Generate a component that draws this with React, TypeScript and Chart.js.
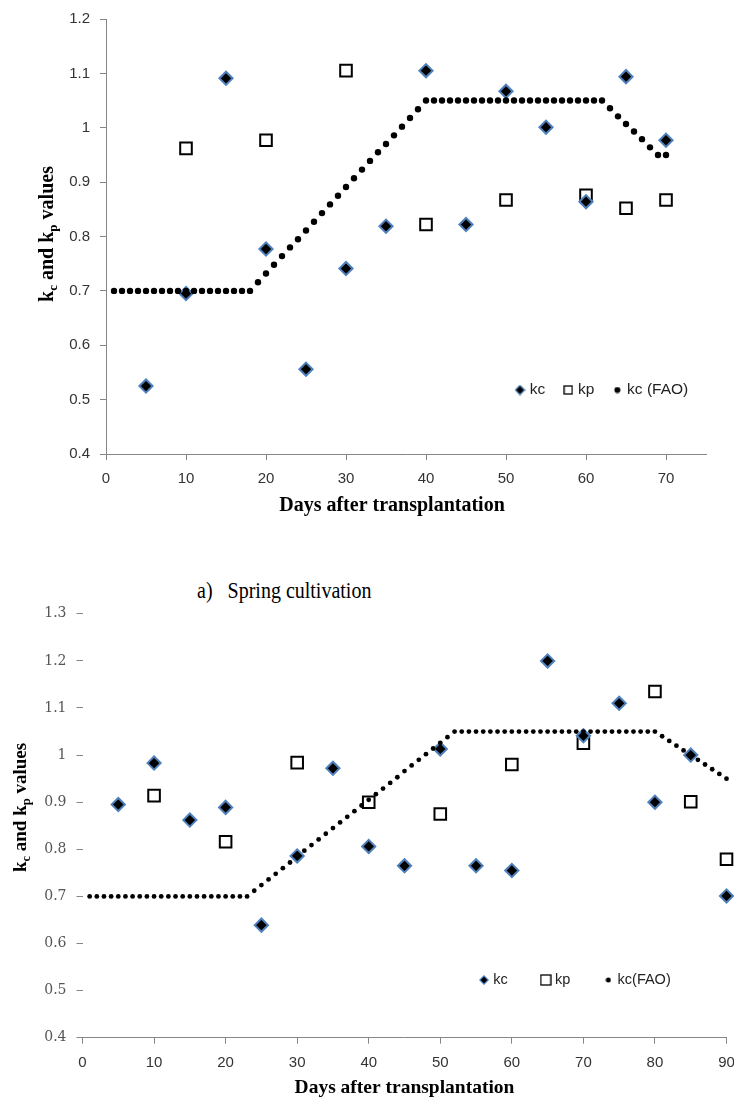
import React, { useEffect, useRef } from 'react';
import { Chart, registerables } from 'chart.js';

Chart.register(...registerables);

// ---------- a) Spring cultivation ----------
const springKcDays = [5, 10, 15, 20, 25, 30, 35, 40, 45, 50, 55, 60, 65, 70];
const springKc = [0.525, 0.695, 1.091, 0.777, 0.556, 0.741, 0.819, 1.105, 0.822, 1.067, 1.001, 0.864, 1.094, 0.977];
const springKpDays = [10, 20, 30, 40, 50, 60, 65, 70];
const springKp = [0.962, 0.977, 1.105, 0.822, 0.867, 0.876, 0.852, 0.867];
// kc (FAO), one value per day starting at day 1
const springFao = [
  0.7, 0.7, 0.7, 0.7, 0.7, 0.7, 0.7, 0.7, 0.7, 0.7,
  0.7, 0.7, 0.7, 0.7, 0.7, 0.7, 0.7, 0.7, 0.716, 0.732,
  0.748, 0.764, 0.78, 0.795, 0.811, 0.827, 0.843, 0.859, 0.875, 0.891,
  0.907, 0.923, 0.939, 0.955, 0.97, 0.986, 1.002, 1.018, 1.034, 1.05,
  1.05, 1.05, 1.05, 1.05, 1.05, 1.05, 1.05, 1.05, 1.05, 1.05,
  1.05, 1.05, 1.05, 1.05, 1.05, 1.05, 1.05, 1.05, 1.05, 1.05,
  1.05, 1.05, 1.036, 1.021, 1.007, 0.993, 0.979, 0.964, 0.95, 0.95,
];
const springLabels = ['kc', 'kp', 'kc (FAO)'];

// ---------- second season ----------
const secondKcDays = [5, 10, 15, 20, 25, 30, 35, 40, 45, 50, 55, 60, 65, 70, 75, 80, 85, 90];
const secondKc = [0.895, 0.983, 0.862, 0.889, 0.639, 0.786, 0.972, 0.806, 0.765, 1.013, 0.765, 0.755, 1.2, 1.041, 1.11, 0.9, 1.0, 0.701];
const secondKpDays = [10, 20, 30, 40, 50, 60, 70, 80, 85, 90];
const secondKp = [0.914, 0.816, 0.984, 0.9, 0.875, 0.98, 1.025, 1.135, 0.901, 0.779];
const secondFao = [
  0.7, 0.7, 0.7, 0.7, 0.7, 0.7, 0.7, 0.7, 0.7, 0.7,
  0.7, 0.7, 0.7, 0.7, 0.7, 0.7, 0.7, 0.7, 0.7, 0.7,
  0.7, 0.7, 0.7, 0.712, 0.724, 0.736, 0.748, 0.76, 0.772, 0.784,
  0.797, 0.809, 0.821, 0.833, 0.845, 0.857, 0.869, 0.881, 0.893, 0.905,
  0.917, 0.929, 0.941, 0.953, 0.966, 0.978, 0.99, 1.002, 1.014, 1.026,
  1.038, 1.05, 1.05, 1.05, 1.05, 1.05, 1.05, 1.05, 1.05, 1.05,
  1.05, 1.05, 1.05, 1.05, 1.05, 1.05, 1.05, 1.05, 1.05, 1.05,
  1.05, 1.05, 1.05, 1.05, 1.05, 1.05, 1.05, 1.05, 1.05, 1.05,
  1.04, 1.03, 1.02, 1.01, 1.0, 0.99, 0.98, 0.97, 0.96, 0.95,
];
const secondLabels = ['kc', 'kp', 'kc(FAO)'];

const xTitle = 'Days after transplantation';
const yTitleParts = [
  { text: 'k', sub: false },
  { text: 'c', sub: true },
  { text: ' and k', sub: false },
  { text: 'p', sub: true },
  { text: ' values', sub: false },
];
const captionText = 'a)   Spring cultivation';

const SERIF = '"Liberation Serif", "Times New Roman", serif';
const SANS = '"Liberation Sans", Arial, sans-serif';

function makeMarker(kind: string, size: number): HTMLCanvasElement {
  const c = document.createElement('canvas');
  c.width = size;
  c.height = size;
  const g = c.getContext('2d') as CanvasRenderingContext2D;
  const m = size / 2;
  if (kind === 'diamond') {
    g.beginPath();
    g.moveTo(m, 0.8);
    g.lineTo(size - 0.8, m);
    g.lineTo(m, size - 0.8);
    g.lineTo(0.8, m);
    g.closePath();
    g.fillStyle = '#000';
    g.fill();
    g.strokeStyle = '#4F81BD';
    g.lineWidth = 1.2;
    g.stroke();
  } else if (kind === 'square') {
    g.fillStyle = '#fff';
    g.fillRect(1, 1, size - 2, size - 2);
    g.strokeStyle = '#000';
    g.lineWidth = 1.3;
    g.strokeRect(1, 1, size - 2, size - 2);
  } else {
    g.beginPath();
    g.arc(m, m, m - 0.5, 0, Math.PI * 2);
    g.fillStyle = '#000';
    g.fill();
  }
  return c;
}

type PanelProps = {
  top: number;
  width: number;
  height: number;
  kcDays: number[];
  kc: number[];
  kpDays: number[];
  kp: number[];
  fao: number[];
  labels: string[];
  xMax: number;
  yMin: number;
  yMax: number;
  pad: { top: number; right: number };
  yAxisWidth: number;
  xAxisHeight: number;
  yBorder: boolean;
  yTickFont: { family: string; size: number };
  yTickColor: string;
  faoRadius: number;
  legend: { left: number; centerY: number; padding: number; fontSize: number; markers: number[] };
  xTitlePos: { x: number; y: number; size: number };
  yTitlePos: { x: number; y: number; size: number; subSize: number; subShift: number };
};

function Panel(p: PanelProps) {
  const ref = useRef<HTMLCanvasElement | null>(null);

  useEffect(() => {
    const canvas = ref.current;
    if (!canvas) return;

    const markerCanvases = [
      makeMarker('diamond', p.legend.markers[0]),
      makeMarker('square', p.legend.markers[1]),
      makeMarker('dot', p.legend.markers[2]),
    ];

    const legendMover = {
      id: 'legendMover',
      beforeLayout(chart: any) {
        const lg = chart.legend;
        if (lg && !lg.__patched) {
          const orig = lg.fit;
          lg.fit = function () {
            orig.call(this);
            this.height = 0;
          };
          lg.__patched = true;
        }
      },
      beforeDraw(chart: any) {
        const lg = chart.legend;
        if (!lg) return;
        const L = p.legend.left - p.legend.padding;
        const T = p.legend.centerY - p.legend.padding - p.legend.fontSize / 2;
        lg.left = L;
        lg.right = L + 600;
        lg.width = 600;
        lg.top = T;
        lg.bottom = T + 80;
        lg.height = 80;
      },
    };

    const titles = {
      id: 'richTitles',
      afterDraw(chart: any) {
        const ctx = chart.ctx as CanvasRenderingContext2D;
        // x title
        ctx.save();
        ctx.fillStyle = '#000';
        ctx.font = `bold ${p.xTitlePos.size}px ${SERIF}`;
        ctx.textAlign = 'center';
        ctx.textBaseline = 'alphabetic';
        ctx.fillText(xTitle, p.xTitlePos.x, p.xTitlePos.y + p.xTitlePos.size * 0.33);
        ctx.restore();
        // y title with subscripts
        const yt = p.yTitlePos;
        ctx.save();
        ctx.translate(yt.x, yt.y);
        ctx.rotate(-Math.PI / 2);
        ctx.fillStyle = '#000';
        ctx.textAlign = 'left';
        ctx.textBaseline = 'alphabetic';
        const mainF = `bold ${yt.size}px ${SERIF}`;
        const subF = `bold ${yt.subSize}px ${SERIF}`;
        let total = 0;
        const widths = yTitleParts.map((part) => {
          ctx.font = part.sub ? subF : mainF;
          const w = ctx.measureText(part.text).width;
          total += w;
          return w;
        });
        let x = -total / 2;
        const base = yt.size * 0.33;
        yTitleParts.forEach((part, i) => {
          ctx.font = part.sub ? subF : mainF;
          ctx.fillText(part.text, x, base + (part.sub ? yt.subShift : 0));
          x += widths[i];
        });
        ctx.restore();
      },
    };

    const axisColor = '#868686';
    const chart = new Chart(canvas, {
      type: 'scatter',
      data: {
        datasets: [
          {
            label: p.labels[0],
            data: p.kcDays.map((d, i) => ({ x: d, y: p.kc[i] })),
            pointStyle: 'rectRot',
            pointRadius: 6.6,
            backgroundColor: '#000',
            borderColor: '#4F81BD',
            borderWidth: 2,
            order: 1,
            clip: false,
          },
          {
            label: p.labels[1],
            data: p.kpDays.map((d, i) => ({ x: d, y: p.kp[i] })),
            pointStyle: 'rect',
            pointRadius: 8.2,
            backgroundColor: '#fff',
            borderColor: '#000',
            borderWidth: 2,
            order: 2,
            clip: false,
          },
          {
            label: p.labels[2],
            data: p.fao.map((v, i) => ({ x: i + 1, y: v })),
            pointStyle: 'circle',
            pointRadius: p.faoRadius,
            backgroundColor: '#000',
            borderColor: '#000',
            borderWidth: 0,
            order: 0,
            clip: false,
          },
        ],
      } as any,
      options: {
        responsive: false,
        animation: false,
        events: [],
        layout: { padding: { top: p.pad.top, right: p.pad.right, left: 0, bottom: 0 } },
        plugins: {
          tooltip: { enabled: false },
          legend: {
            display: true,
            position: 'top',
            align: 'start',
            labels: {
              usePointStyle: true,
              pointStyleWidth: 4,
              padding: p.legend.padding,
              color: '#222',
              font: { family: SANS, size: p.legend.fontSize },
              generateLabels: (ch: any) => {
                const items = (Chart as any).defaults.plugins.legend.labels.generateLabels(ch);
                items.sort((a: any, b: any) => a.datasetIndex - b.datasetIndex);
                items.forEach((it: any) => {
                  it.pointStyle = markerCanvases[it.datasetIndex];
                  it.rotation = 0;
                });
                return items;
              },
            },
          },
        },
        scales: {
          x: {
            type: 'linear',
            min: 0,
            max: p.xMax,
            afterFit: (s: any) => {
              s.height = p.xAxisHeight;
            },
            ticks: {
              stepSize: 10,
              includeBounds: false,
              autoSkip: false,
              maxRotation: 0,
              padding: 10,
              color: '#333',
              font: { family: SANS, size: 15 },
            },
            grid: { drawOnChartArea: false, drawTicks: true, tickLength: 6, color: axisColor },
            border: { display: true, color: axisColor },
          },
          y: {
            type: 'linear',
            min: p.yMin,
            max: p.yMax,
            afterFit: (s: any) => {
              s.width = p.yAxisWidth;
            },
            ticks: {
              stepSize: 0.1,
              padding: 10,
              color: p.yTickColor,
              font: p.yTickFont,
              callback: (v: any) => String(Math.round(Number(v) * 10) / 10),
            },
            grid: { drawOnChartArea: false, drawTicks: true, tickLength: 6, color: axisColor },
            border: { display: p.yBorder, color: axisColor },
          },
        },
      } as any,
      plugins: [legendMover, titles] as any,
    });

    return () => {
      chart.destroy();
    };
  }, []);

  return (
    <canvas
      ref={ref}
      width={p.width}
      height={p.height}
      style={{ position: 'absolute', left: 0, top: p.top, width: p.width, height: p.height, display: 'block' }}
    />
  );
}

export default function App() {
  return (
    <div
      style={{
        position: 'absolute',
        left: 0,
        top: 0,
        width: 734,
        height: 1099,
        overflow: 'hidden',
        background: '#fff',
      }}
    >
      <Panel
        top={0}
        width={734}
        height={530}
        kcDays={springKcDays}
        kc={springKc}
        kpDays={springKpDays}
        kp={springKp}
        fao={springFao}
        labels={springLabels}
        xMax={75}
        yMin={0.4}
        yMax={1.2}
        pad={{ top: 14.7, right: 28 }}
        yAxisWidth={106}
        xAxisHeight={76}
        yBorder={true}
        yTickFont={{ family: SANS, size: 15 }}
        yTickColor="#333"
        faoRadius={3.2}
        legend={{ left: 518, centerY: 390, padding: 21, fontSize: 15.5, markers: [11, 10, 7] }}
        xTitlePos={{ x: 392, y: 504, size: 20 }}
        yTitlePos={{ x: 46.7, y: 234, size: 20, subSize: 13, subShift: 4 }}
      />
      <div
        style={{
          position: 'absolute',
          left: 197,
          top: 579.25,
          fontFamily: SERIF,
          fontSize: 20,
          lineHeight: '24px',
          whiteSpace: 'pre',
          color: '#000',
          transform: 'scaleY(1.2)',
          transformOrigin: '0 18.75px',
        }}
      >
        {captionText}
      </div>
      <Panel
        top={590}
        width={780}
        height={540}
        kcDays={secondKcDays}
        kc={secondKc}
        kpDays={secondKpDays}
        kp={secondKp}
        fao={secondFao}
        labels={secondLabels}
        xMax={90}
        yMin={0.4}
        yMax={1.3}
        pad={{ top: 23.8, right: 53.5 }}
        yAxisWidth={82.5}
        xAxisHeight={92.3}
        yBorder={false}
        yTickFont={{ family: '"DejaVu Serif", serif', size: 14 }}
        yTickColor="#555"
        faoRadius={2.4}
        legend={{ left: 482, centerY: 390, padding: 36, fontSize: 14.5, markers: [10, 12, 6] }}
        xTitlePos={{ x: 404.5, y: 496.7, size: 19.5 }}
        yTitlePos={{ x: 19.5, y: 217.5, size: 19, subSize: 12.5, subShift: 4 }}
      />
    </div>
  );
}
